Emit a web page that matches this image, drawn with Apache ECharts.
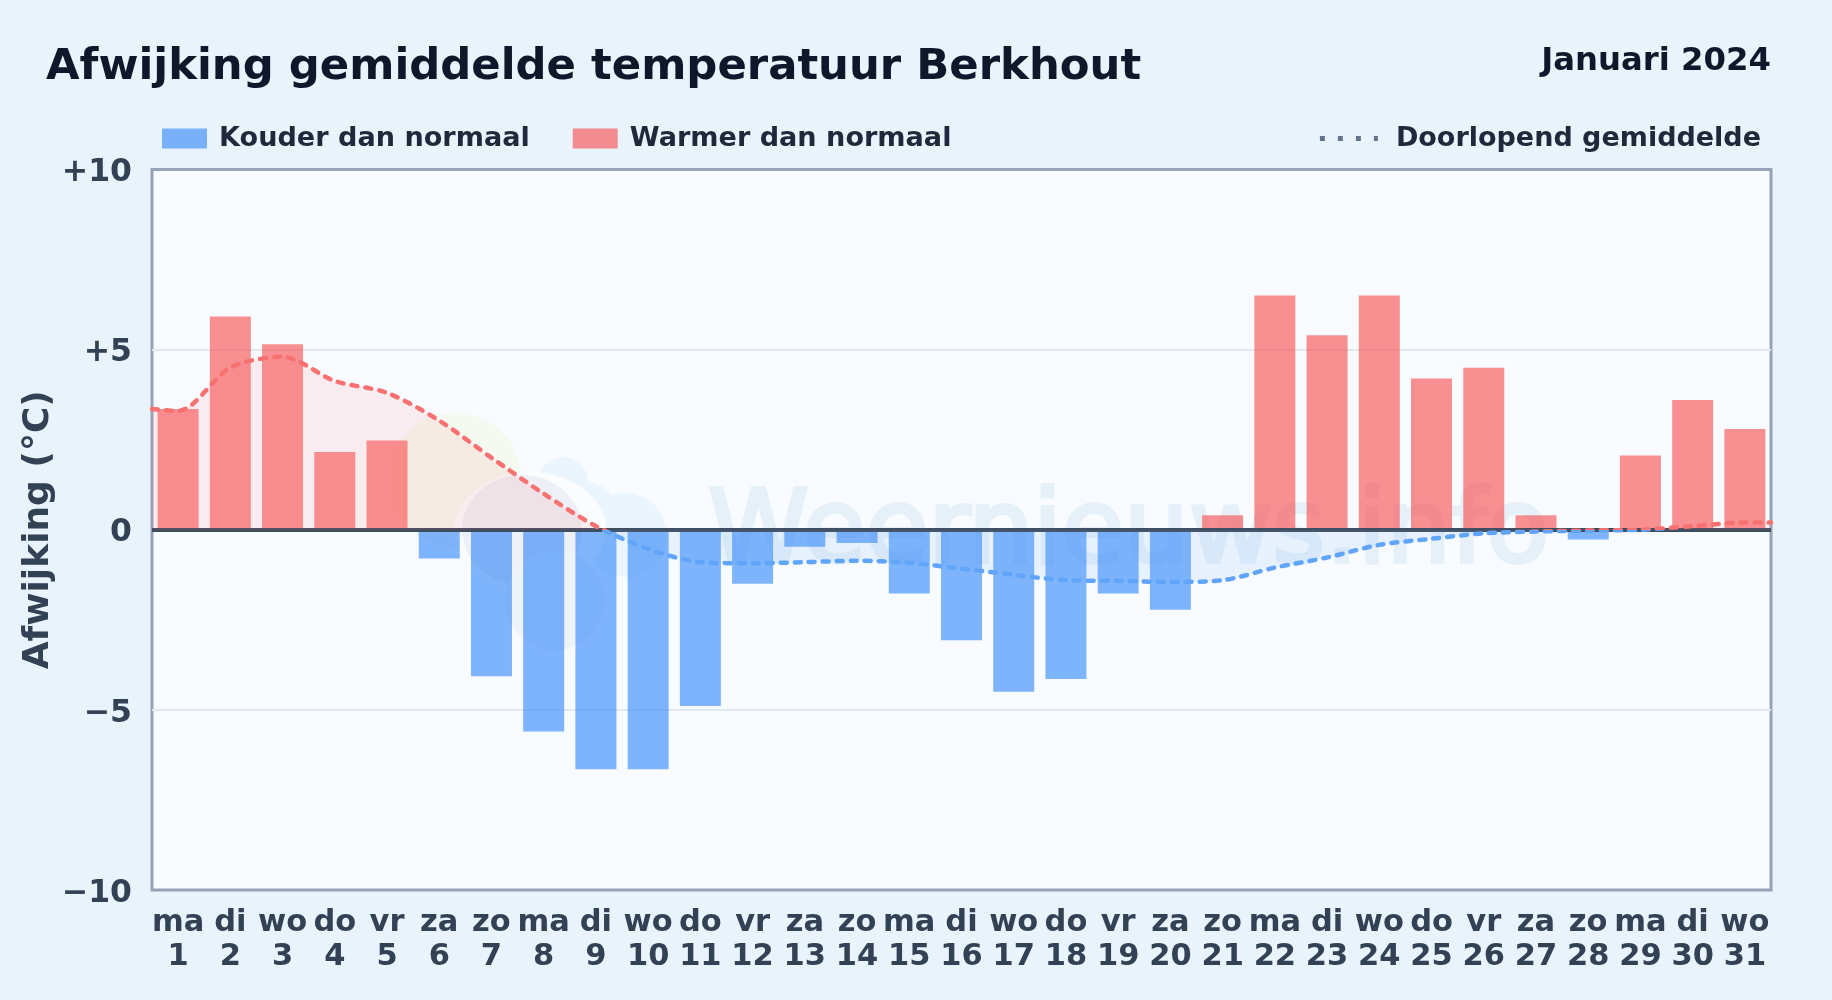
<!DOCTYPE html>
<html>
<head>
<meta charset="utf-8">
<style>html,body{margin:0;padding:0;background:#e8f3fc}#c{width:1832px;height:1000px}</style>
<script src="https://cdn.jsdelivr.net/npm/echarts@6/dist/echarts.min.js"></script>
</head>
<body>
<div id="c"></div>
<script>
const weekdays = ['ma','di','wo','do','vr','za','zo','ma','di','wo','do','vr','za','zo','ma','di','wo','do','vr','za','zo','ma','di','wo','do','vr','za','zo','ma','di','wo'];
const dayNumbers = [1,2,3,4,5,6,7,8,9,10,11,12,13,14,15,16,17,18,19,20,21,22,23,24,25,26,27,28,29,30,31];
const deviation = [3.35,5.92,5.15,2.16,2.48,-0.8,-4.07,-5.6,-6.65,-6.65,-4.89,-1.5,-0.47,-0.37,-1.77,-3.07,-4.5,-4.14,-1.77,-2.22,0.4,6.5,5.4,6.5,4.2,4.5,0.4,-0.27,2.06,3.6,2.8];
const meanDays = [0.5,1,2,3,4,5,6,7,8,9,10,11,12,13,14,15,16,17,18,19,20,21,22,23,24,25,26,27,28,29,30,31,31.5];
const meanValues = [3.35,3.3,4.5,4.8,4.13,3.8,3.03,2.0,1.0,0.1,-0.53,-0.9,-0.93,-0.9,-0.86,-0.92,-1.08,-1.25,-1.4,-1.42,-1.45,-1.4,-1.05,-0.77,-0.42,-0.25,-0.1,-0.05,-0.02,0.0,0.1,0.2,0.2];
const yTicks = {10:'+10',5:'+5',0:'0','-5':'\u22125','-10':'\u221210'};
const FONT = '"DejaVu Sans"';
const BLUE_BAR='rgba(52,136,248,0.62)', RED_BAR='rgba(248,72,72,0.6)', BLUE_LINE='#60a5fa', RED_LINE='#f87171';

const chart = echarts.init(document.getElementById('c'), null, {renderer:'canvas'});
const wmBlue = '#ebf5fe';
chart.setOption({
  animation:false,
  backgroundColor:'#e8f3fc',
  textStyle:{fontFamily:FONT},
  title:[
    {text:'Afwijking gemiddelde temperatuur Berkhout',left:41,top:41,textStyle:{fontFamily:FONT,fontSize:43.35,fontWeight:'bold',color:'#0f172a'}},
    {text:'Januari 2024',right:56,top:41,textStyle:{fontFamily:FONT,fontSize:32.3,fontWeight:'bold',color:'#0f172a'}}
  ],
  legend:[
    {data:[{name:'Kouder dan normaal',icon:'rect'},{name:'Warmer dan normaal',icon:'rect'}],left:157,top:120,itemWidth:45,itemHeight:20,itemGap:43,selectedMode:false,
     textStyle:{fontFamily:FONT,fontSize:27.1,fontWeight:'bold',color:'#1e293b',padding:[0,0,0,7]}},
    {data:['Doorlopend gemiddelde'],right:66,top:120,itemWidth:58,itemHeight:20,selectedMode:false,
     itemStyle:{opacity:0},
     lineStyle:{color:'#64748b',width:5,type:[5,13],cap:'butt'},
     textStyle:{fontFamily:FONT,fontSize:27,fontWeight:'bold',color:'#1e293b',padding:[0,0,0,13]}}
  ],
  grid:{left:152,right:61,top:169.5,bottom:110,show:true,backgroundColor:'#f8fbff',borderColor:'#94a3b8',borderWidth:3,containLabel:false},
  xAxis:[
    {type:'category',data:weekdays.map((d,i)=>d+'\n'+dayNumbers[i]),position:'bottom',
     axisLine:{show:false},axisTick:{show:false},splitLine:{show:false},
     axisLabel:{interval:0,hideOverlap:false,margin:16,fontFamily:FONT,fontSize:30.5,fontWeight:'bold',color:'#334155',lineHeight:34}},
    {type:'value',min:0.5,max:31.5,show:false,splitLine:{show:false}}
  ],
  yAxis:{type:'value',min:-10,max:10,interval:5,
    name:'Afwijking (°C)',nameLocation:'middle',nameGap:95,nameRotate:90,nameMoveOverlap:false,
    nameTextStyle:{fontFamily:FONT,fontSize:36,fontWeight:'bold',color:'#334155'},
    axisLine:{show:false},axisTick:{show:false},
    splitLine:{showMinLine:false,showMaxLine:false,lineStyle:{color:'#e2e8f0',width:2}},
    axisLabel:{margin:20,fontFamily:FONT,fontSize:31.5,fontWeight:'bold',color:'#334155',verticalAlign:'top',lineHeight:7,formatter:v=>yTicks[v]}},
  visualMap:{show:false,type:'piecewise',seriesIndex:2,dimension:1,pieces:[{min:-10,max:0,color:BLUE_LINE},{min:0,max:10,color:RED_LINE}]},
  graphic:{z:1,elements:[
    {type:'circle',silent:true,shape:{cx:455,cy:480,r:67},style:{fill:'#f5faf1'}},
    {type:'circle',silent:true,shape:{cx:563,cy:482,r:25},style:{fill:wmBlue}},
    {type:'circle',silent:true,shape:{cx:625,cy:535,r:42},style:{fill:wmBlue}},
    {type:'circle',silent:true,shape:{cx:585,cy:515,r:33},style:{fill:wmBlue}},
    {type:'ellipse',silent:true,shape:{cx:530,cy:530,rx:76,ry:58},style:{fill:'#fbfcfe'}},
    {type:'ellipse',silent:true,shape:{cx:522,cy:530,rx:60,ry:55},style:{fill:'#edf0f6'}},
    {type:'ellipse',silent:true,shape:{cx:555,cy:600,rx:50,ry:50},style:{fill:'#eef3f8'}},
    {type:'text',silent:true,style:{x:708,y:484,text:'Weernieuws.info',fill:'#e6f0f9',stroke:'#e6f0f9',lineWidth:4,font:'normal 102px "DejaVu Sans"'}}
  ]},
  series:[
    {name:'Kouder dan normaal',type:'bar',stack:'d',barWidth:41,z:3,itemStyle:{color:BLUE_BAR},
     data:deviation.map(v=>v<0?v:null),
     markLine:{silent:true,symbol:'none',z:5,label:{show:false},lineStyle:{color:'#3f4d61',width:4,type:'solid'},data:[{yAxis:0}]}},
    {name:'Warmer dan normaal',type:'bar',stack:'d',barWidth:41,z:3,itemStyle:{color:RED_BAR},
     data:deviation.map(v=>v>=0?v:null)},
    {name:'Doorlopend gemiddelde',type:'line',xAxisIndex:1,z:6,smooth:0.3,symbol:'none',
     lineStyle:{width:4.5,type:[6,8],cap:'round'},
     areaStyle:{opacity:0.11},
     data:meanDays.map((d,i)=>[d,meanValues[i]])}
  ]
});
</script>
</body>
</html>
